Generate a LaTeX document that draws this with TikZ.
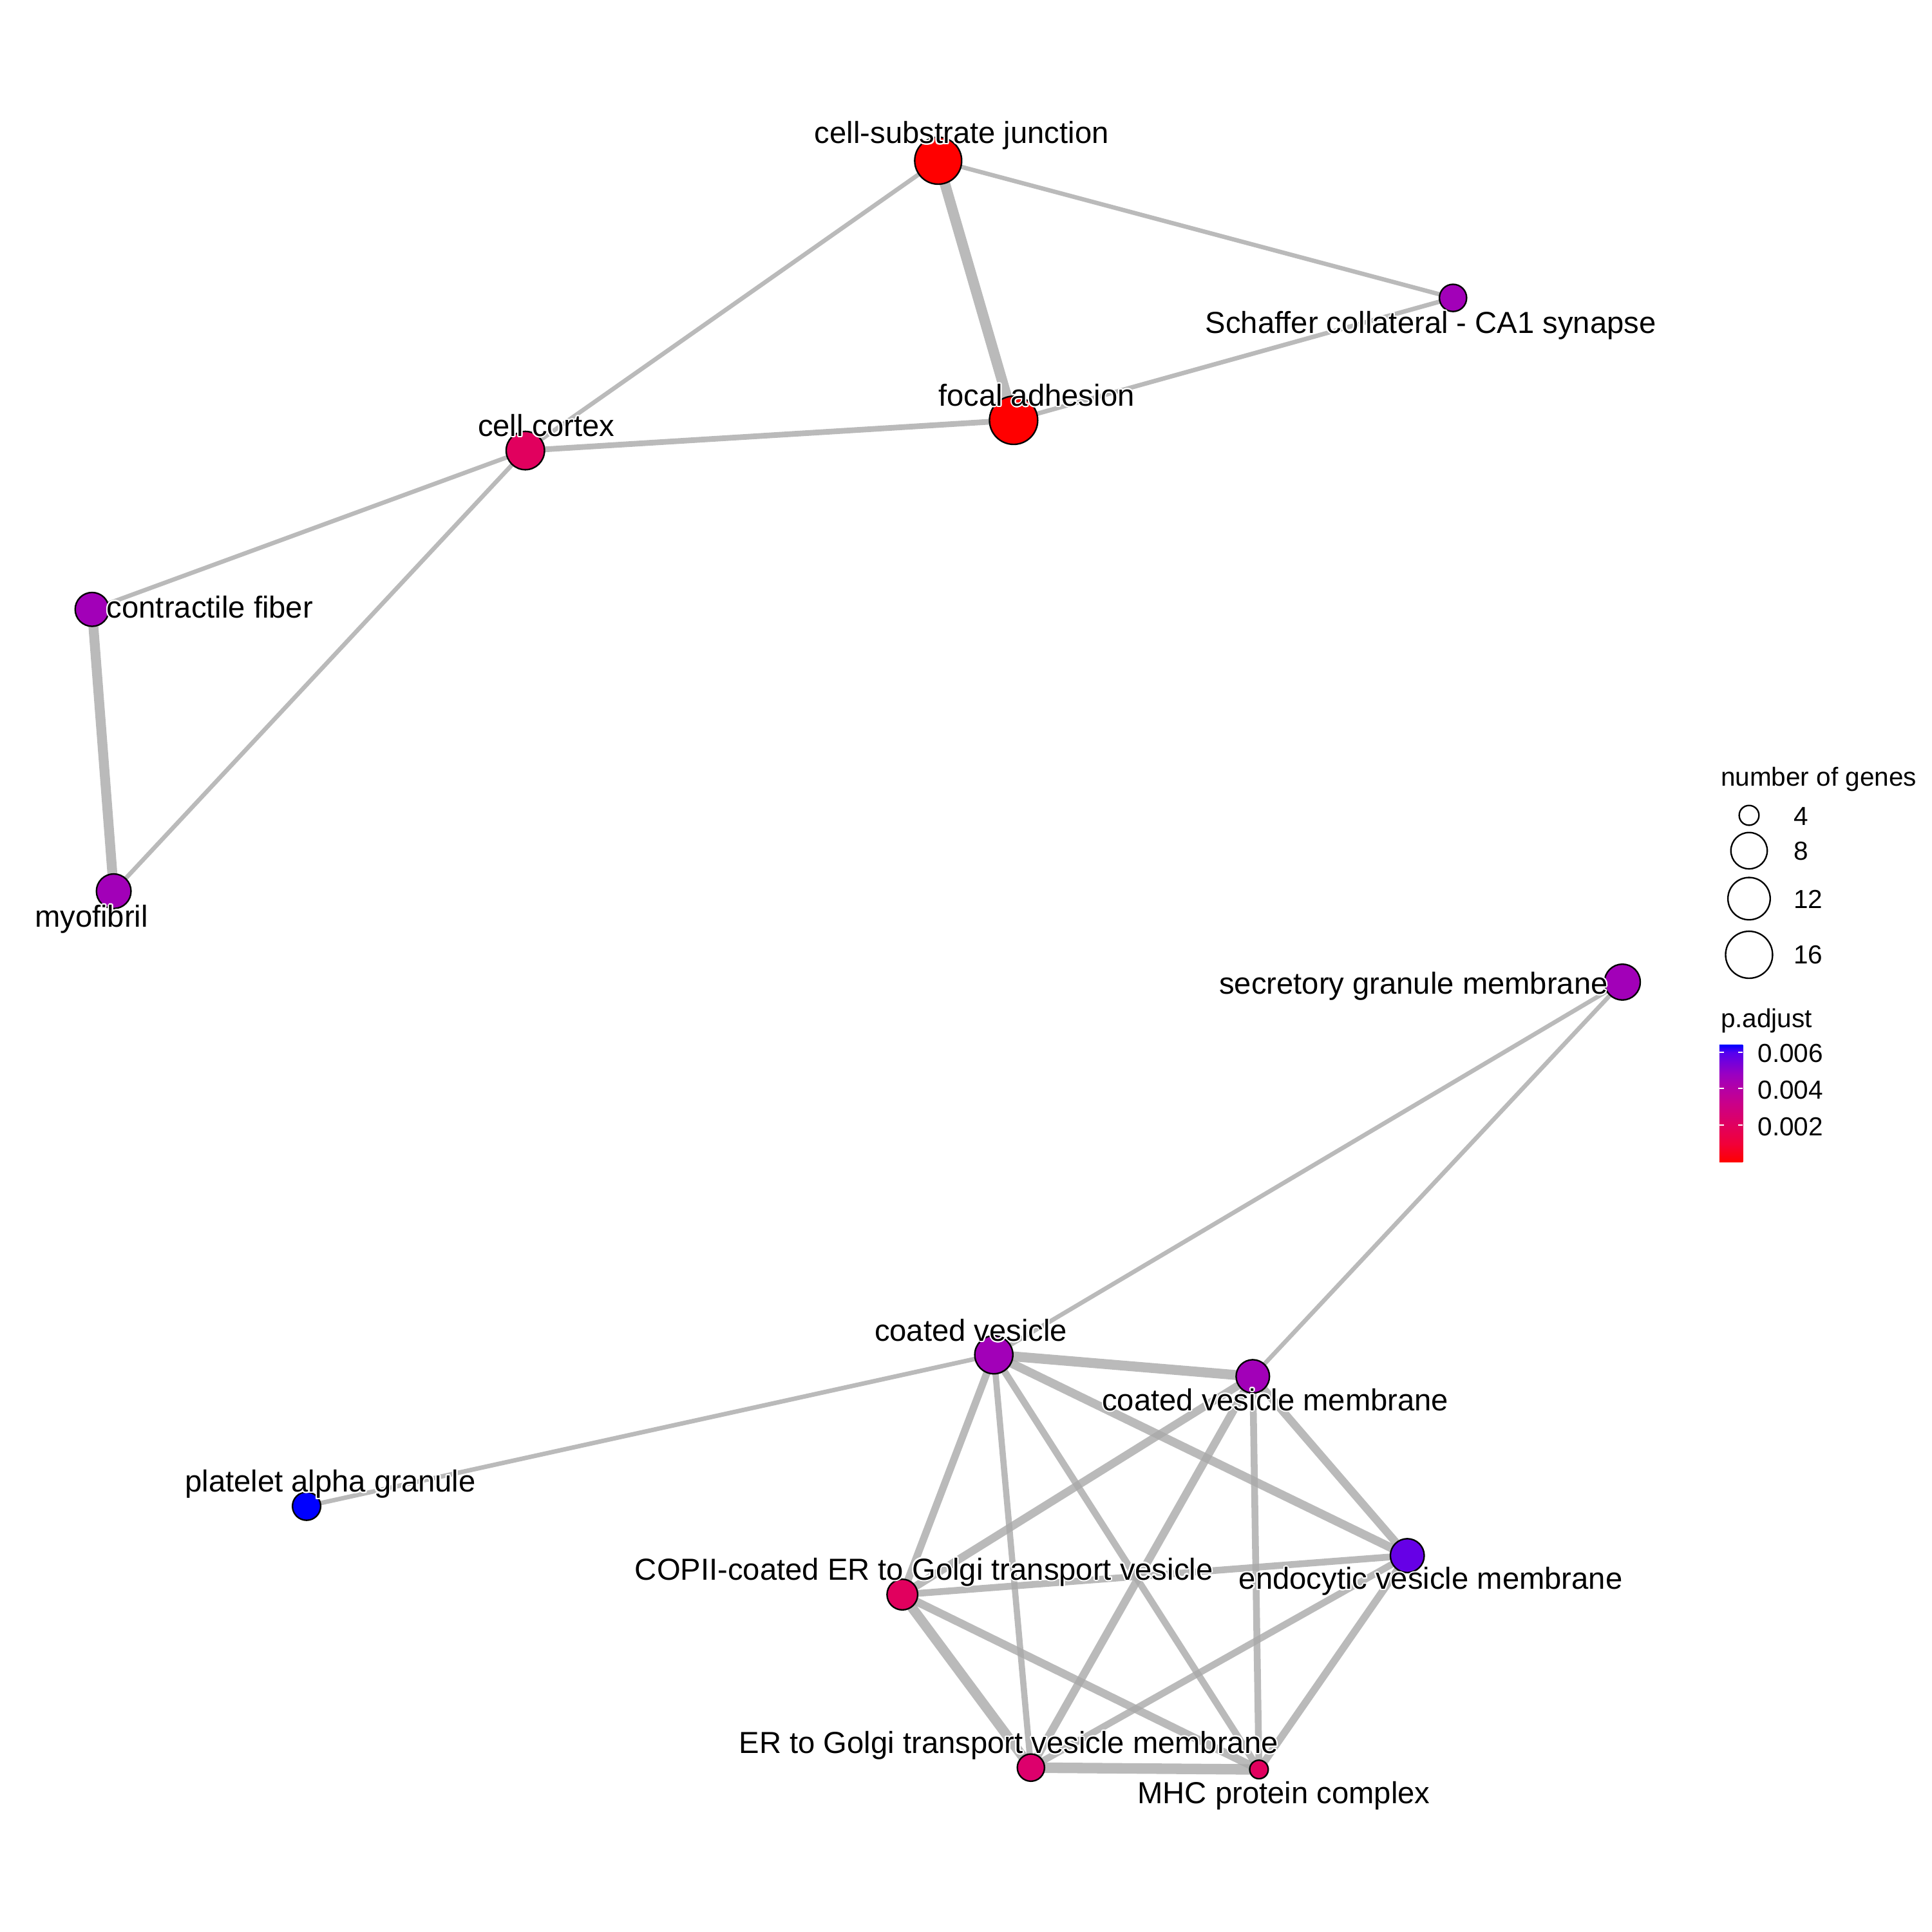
\documentclass[tikz,border=0pt]{standalone}
\usepackage{fontspec}
\setmainfont{Liberation Sans}
\usepackage{contour}
\contourlength{0.3pt}
\contournumber{16}

\pgfdeclarelayer{background}
\pgfsetlayers{background,main}

\definecolor{edgegrey}{RGB}{169,169,169}
\definecolor{padjA}{HTML}{FF0000}
\definecolor{padjB}{HTML}{E1005E}
\definecolor{padjBB}{HTML}{DD006C}
\definecolor{padjC}{HTML}{A200B8}
\definecolor{padjD}{HTML}{6600E6}
\definecolor{padjE}{HTML}{0000FF}

\definecolor{barA}{HTML}{FF0000}
\definecolor{barB}{HTML}{F10039}
\definecolor{barC}{HTML}{E1005E}
\definecolor{barD}{HTML}{CA0089}
\definecolor{barE}{HTML}{B500A5}
\definecolor{barF}{HTML}{9A00C2}
\definecolor{barG}{HTML}{5500EF}
\definecolor{barH}{HTML}{0000FF}
\pgfdeclareverticalshading{padjbar}{100bp}{color(0bp)=(barA); color(25bp)=(barA);
  color(32.85bp)=(barB); color(40.7bp)=(barC); color(50bp)=(barD);
  color(56.25bp)=(barE); color(62.5bp)=(barF); color(71.8bp)=(barG);
  color(75bp)=(barH); color(100bp)=(barH)}

\newcommand{\lblhalo}[1]{\contour{white}{#1}}

\begin{document}
\begin{tikzpicture}[x=0.1mm, y=-0.1mm,
  term/.style 2 args={circle, draw=black, line width=0.35pt, fill=#1, minimum size=#2*0.2mm, inner sep=0pt},
  edge/.style={draw=edgegrey, opacity=0.8, line width=#1*0.1mm},
  lbl/.style={font=\fontsize{7}{8}\selectfont, inner sep=0pt, anchor=base},
  key/.style={font=\fontsize{6}{7}\selectfont, inner sep=0pt, anchor=base west},
  keycircle/.style={circle, draw=black, line width=0.35pt, inner sep=0pt, minimum size=#1*0.2mm}]

  \useasboundingbox (0,0) rectangle (1563,1563);

  \node[term={padjA}{19}] (csj) at (759,130) {};
  \node[term={padjC}{11}] (scca1) at (1175.5,241) {};
  \node[term={padjA}{19.5}] (focal) at (820,340) {};
  \node[term={padjB}{15.5}] (cortex) at (425,364.5) {};
  \node[term={padjC}{13.7}] (contract) at (74.5,493) {};
  \node[term={padjC}{14}] (myofib) at (92,721) {};

  \node[term={padjC}{14.5}] (secret) at (1312.5,794.5) {};
  \node[term={padjC}{15.4}] (cv) at (804,1096) {};
  \node[term={padjC}{13.5}] (cvm) at (1013.5,1113.5) {};
  \node[term={padjE}{11.4}] (platelet) at (248,1218.5) {};
  \node[term={padjB}{12.4}] (copii) at (730,1290) {};
  \node[term={padjD}{13.7}] (endo) at (1138.5,1258.5) {};
  \node[term={padjBB}{11}] (ergolgi) at (834,1430) {};
  \node[term={padjB}{7.5}] (mhc) at (1018.5,1431.5) {};

  \begin{pgfonlayer}{background}
    \foreach \a/\b/\w in {csj/focal/8.5, csj/scca1/3.5, csj/cortex/3.5, scca1/focal/3.6,
        cortex/focal/4.6, cortex/contract/3.5, cortex/myofib/3.5, contract/myofib/8,
        secret/cv/3.5, secret/cvm/3.5, cv/platelet/3.6, cv/cvm/8, cv/endo/7,
        cv/copii/6, cv/ergolgi/5, cv/mhc/5.5, cvm/copii/6.5, cvm/ergolgi/6.5,
        cvm/mhc/5.5, cvm/endo/6.5, copii/endo/5.5, copii/ergolgi/8, copii/mhc/6.5,
        endo/ergolgi/5.5, endo/mhc/6, ergolgi/mhc/8.5} {
      \draw[edge=\w] (\a.center) -- (\b.center);
    }
  \end{pgfonlayer}

  \node[lbl] (l-csj) at (778,116) {\lblhalo{cell-substrate junction}};
  \node[lbl] (l-scca1) at (1157.5,269.5) {\lblhalo{Schaffer collateral - CA1 synapse}};
  \node[lbl] (l-focal) at (838.5,328.5) {\lblhalo{focal adhesion}};
  \node[lbl] (l-cortex) at (442,353) {\lblhalo{cell cortex}};
  \node[lbl, anchor=base west] (l-contract) at (85.7,499.8) {\lblhalo{contractile fiber}};
  \node[lbl] (l-myofib) at (74,750) {\lblhalo{myofibril}};
  \node[lbl] (l-secret) at (1143.6,804) {\lblhalo{secretory granule membrane}};
  \node[lbl] (l-cv) at (785.5,1084.8) {\lblhalo{coated vesicle}};
  \node[lbl] (l-cvm) at (1031.7,1141) {\lblhalo{coated vesicle membrane}};
  \node[lbl] (l-platelet) at (267.3,1207) {\lblhalo{platelet alpha granule}};
  \node[lbl] (l-copii) at (747.5,1278) {\lblhalo{COPII-coated ER to Golgi transport vesicle}};
  \node[lbl] (l-endo) at (1157.5,1285.8) {\lblhalo{endocytic vesicle membrane}};
  \node[lbl] (l-ergolgi) at (816,1418.4) {\lblhalo{ER to Golgi transport vesicle membrane}};
  \node[lbl] (l-mhc) at (1038.6,1459.2) {\lblhalo{MHC protein complex}};

  \node[key] (k-genes) at (1391.5,636) {number of genes};
  \node[keycircle=8] (k-c4) at (1415,659.6) {};
  \node[keycircle=14.7] (k-c8) at (1415,688.2) {};
  \node[keycircle=17.1] (k-c12) at (1415,727) {};
  \node[keycircle=19] (k-c16) at (1415,772.4) {};
  \node[key] (k-4) at (1450.5,667.7) {4};
  \node[key] (k-8) at (1450.5,695.9) {8};
  \node[key] (k-12) at (1450.5,735) {12};
  \node[key] (k-16) at (1450.5,779.8) {16};

  \node[key] (k-padj) at (1391.5,831) {p.adjust};
  \shade[shading=padjbar] (1391,845.2) rectangle (1410,940.1);
  \foreach \y in {851.2,880.7,910.3} {
    \draw[white, line width=0.3pt] (1391,\y) -- (1394.8,\y);
    \draw[white, line width=0.3pt] (1406.2,\y) -- (1410,\y);
  }
  \node[key] (k-006) at (1421.4,859.6) {0.006};
  \node[key] (k-004) at (1421.4,889.3) {0.004};
  \node[key] (k-002) at (1421.4,919) {0.002};

\end{tikzpicture}
\end{document}
